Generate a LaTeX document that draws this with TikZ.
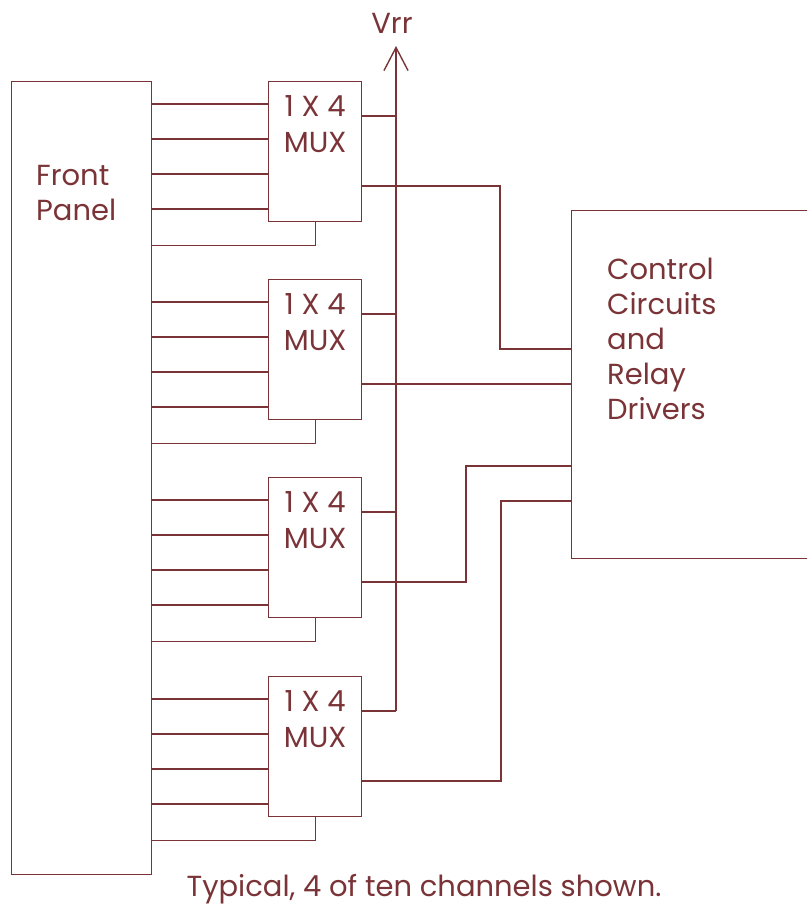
\documentclass[tikz,border=0pt]{standalone}
\usepackage{fontspec}
\setmainfont{Poppins}
\usetikzlibrary{arrows.meta,positioning,calc}
\definecolor{ink}{RGB}{122,52,55}
\tikzset{
  panel/.style={draw=ink,line width=1.4pt,minimum width=140pt,minimum height=793pt,
    anchor=north west,inner sep=0pt},
  muxbox/.style={draw=ink,line width=1.4pt,minimum width=93pt,minimum height=140pt,
    anchor=north west,inner sep=0pt},
  ctrl/.style={draw=ink,line width=1.4pt,minimum width=300pt,minimum height=348pt,
    anchor=north west,inner sep=0pt},
  wire/.style={draw=ink,line width=1.4pt},
  lbl/.style={text=ink,inner sep=0pt,font=\fontsize{29}{35}\selectfont,align=left},
}

\begin{document}
\begin{tikzpicture}[x=1pt,y=-1pt]
\useasboundingbox (0,0) rectangle (807,905);
\clip (0,0) rectangle (807,905);
% blocks
\node[panel] (FP) at (11,81) {};
\node[lbl,anchor=north west] (FPt) at (36,165) {Front\\Panel};
\node[ctrl] (CC) at (571,210) {};
\node[lbl,anchor=north west] (CCt) at (607,258) {Control\\Circuits\\and\\Relay\\Drivers};
\coordinate (vtop) at (396,46);
\node[lbl,anchor=base] (vrr) at (392,33) {Vrr};
\foreach \i/\t in {1/81,2/279,3/477,4/676}{
  \node[muxbox] (M\i) at (268,\t) {};
  \node[lbl,anchor=base] (M\i a) at ([yshift=-35pt]M\i.north) {1 X 4};
  \node[lbl,anchor=base] (M\i b) at ([yshift=-71pt]M\i.north) {MUX};
  % inputs from the front panel
  \foreach \k in {23,58,93,128}
    \draw[wire] ([yshift=-\k pt]M\i.north west) coordinate (p) -- (p -| FP.east);
  \coordinate (b\i) at ([yshift=-23pt]M\i.south);
  \draw[wire] (M\i.south) -- (b\i) -- (b\i -| FP.east);
  % outputs
  \coordinate (o\i) at ([yshift=-35pt]M\i.north east);
  \coordinate (q\i) at ([yshift=-105pt]M\i.north east);
  \draw[wire] (o\i) -- (o\i -| vtop);
}
\draw[wire,-{Straight Barb[length=23pt,width=24pt]}] (o4 -| vtop) -- (vtop);
% lines to the control circuits
\coordinate (r1) at (500,349);
\coordinate (r3) at (466,466);
\coordinate (r4) at (501,501);
\draw[wire] (q1) -| (r1) -- (r1 -| CC.west);
\draw[wire] (q2) -- (q2 -| CC.west);
\draw[wire] (q3) -| (r3) -- (r3 -| CC.west);
\draw[wire] (q4) -| (r4) -- (r4 -| CC.west);
\node[lbl,anchor=base] (note) at (424,896) {Typical, 4 of ten channels shown.};
\end{tikzpicture}
\end{document}
